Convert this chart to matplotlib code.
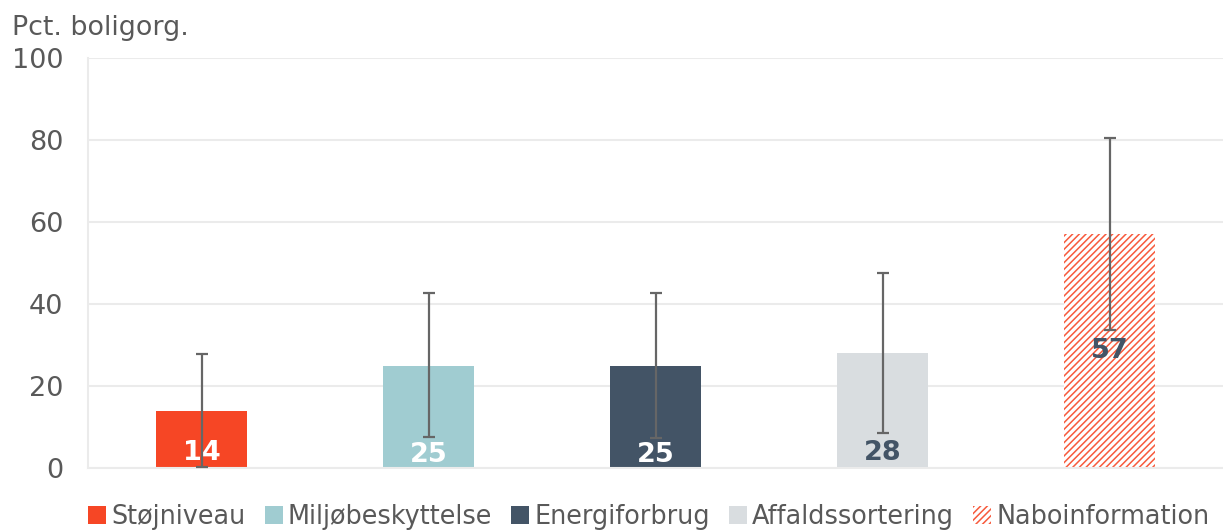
import matplotlib
matplotlib.use("Agg")
import matplotlib.pyplot as plt
from matplotlib.patches import Patch
import numpy as np

categories = ["Støjniveau", "Miljøbeskyttelse", "Energiforbrug", "Affaldssortering", "Naboinformation"]
values = [14, 25, 25, 28, 57]
err_low = [0.3, 7.5, 7.4, 8.6, 33.6]
err_high = [27.7, 42.6, 42.6, 47.6, 80.5]
label_y = [3.6, 3.2, 3.2, 3.6, 28.5]
yticks = [0, 20, 40, 60, 80, 100]

colors = ["#F64625", "#A0CCD1", "#435466", "#D9DDE0", "white"]
label_colors = ["white", "white", "white", "#435466", "#435466"]
hatch_color = "#F75A3C"

plt.rcParams['font.family'] = ['DejaVu Sans']
plt.rcParams['hatch.linewidth'] = 1.1

fig = plt.figure(figsize=(12.23, 5.30), dpi=100)
ax = fig.add_axes([88/1223, 1-468/530, 1-88/1223, 410/530])

x = np.arange(len(categories))
bars = ax.bar(x, values, width=0.4, color=colors, zorder=2, linewidth=0)
bars[4].set_hatch('/////')
bars[4].set_edgecolor(hatch_color)
bars[4].set_linewidth(0)

lo = np.array(values) - np.array(err_low)
hi = np.array(err_high) - np.array(values)
ax.errorbar(x, values, yerr=[lo, hi], fmt='none', ecolor='#666666',
            elinewidth=1.6, capsize=4.5, capthick=1.6, zorder=3)

for xi, ly, v, c in zip(x, label_y, values, label_colors):
    ax.text(xi, ly, str(v), ha='center', va='center', fontsize=19.5,
            fontweight='bold', color=c, zorder=4)

ax.set_xlim(-0.5, 4.5)
ax.set_ylim(0, 100)
ax.set_yticks(yticks)
ax.set_yticklabels([str(t) for t in yticks], fontsize=19.5, color='#595959')
ax.set_xticks([])
ax.tick_params(axis='y', length=0, pad=18)
ax.grid(axis='y', color='#EBEBEB', linewidth=1.5, zorder=0)
for s in ['top', 'right']:
    ax.spines[s].set_visible(False)
ax.spines['left'].set_color('#EBEBEB')
ax.spines['left'].set_linewidth(1.5)
ax.spines['bottom'].set_color('#EBEBEB')
ax.spines['bottom'].set_linewidth(1.5)

fig.text(12/1223, 1-28/530, "Pct. boligorg.", fontsize=19.4, color='#595959',
         ha='left', va='center')

handles = []
for i, (cat, col) in enumerate(zip(categories, colors)):
    if i == 4:
        handles.append(Patch(facecolor='white', edgecolor=hatch_color, hatch='/////',
                             linewidth=0, label=cat))
    else:
        handles.append(Patch(facecolor=col, linewidth=0, label=cat))
leg = fig.legend(handles=handles, loc='center', bbox_to_anchor=(649/1223, 1-517/530),
                 ncol=5, frameon=False, fontsize=18.4, handlelength=0.7,
                 handleheight=0.7, handletextpad=0.2, columnspacing=0.75,
                 labelcolor='#595959', borderaxespad=0, borderpad=0)

fig.savefig("out.png", dpi=100)
